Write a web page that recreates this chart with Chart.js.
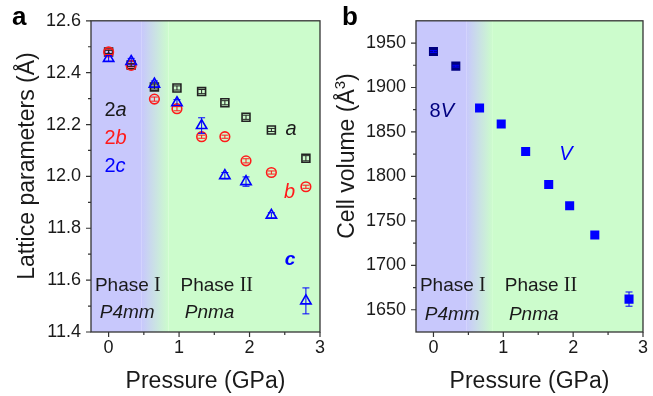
<!DOCTYPE html>
<html>
<head>
<meta charset="utf-8">
<script src="https://cdn.jsdelivr.net/npm/chart.js@4.4.1/dist/chart.umd.min.js"></script>
<style>
  body { margin: 0; background: #fff; }
  #wrap { position: relative; width: 653px; height: 396px; }
  canvas { position: absolute; top: 0; }
</style>
</head>
<body>
<div id="wrap">
  <canvas id="chartA" width="330" height="396" style="left:0"></canvas>
  <canvas id="chartB" width="323" height="396" style="left:330px"></canvas>
</div>
<script>
// pressure points (GPa)
const pressure = [0, 0.32, 0.65, 0.97, 1.32, 1.65, 1.95, 2.31, 2.80];

// panel a: lattice parameters (Å)
const latticeA = [12.48, 12.43, 12.345, 12.341, 12.327, 12.284, 12.228, 12.179, 12.07];
const errorA = [0.006, 0.006, 0.008, 0.008, 0.008, 0.008, 0.008, 0.006, 0.01];
const latticeB = [12.48, 12.428, 12.298, 12.261, 12.153, 12.153, 12.06, 12.015, 11.96];
const errorB = [0.01, 0.006, 0.008, 0.008, 0.006, 0.006, 0.008, 0.006, 0.006];
const latticeC = [12.455, 12.443, 12.356, 12.284, 12.196, 12.003, 11.98, 11.85, 11.52];
const errorC = [0.012, 0.012, 0.012, 0.012, 0.03, 0.012, 0.018, 0.01, 0.05];

// panel b: cell volume (Å^3)
const pressureV = [0, 0.32, 0.66, 0.97, 1.32, 1.65, 1.95, 2.31, 2.80];
const volume = [1940.5, 1924, 1877, 1859, 1828, 1791, 1767, 1734, 1662];
const errorV = [1, 1, 1, 1, 3, 1, 1, 1, 8];

// ticks
const xTicks = [0, 1, 2, 3];
const xMinor = [0.5, 1.5, 2.5];
const yTicksA = [11.4, 11.6, 11.8, 12.0, 12.2, 12.4, 12.6];
const yMinorA = [11.5, 11.7, 11.9, 12.1, 12.3, 12.5];
const yTicksB = [1650, 1700, 1750, 1800, 1850, 1900, 1950];
const yMinorB = [1675, 1725, 1775, 1825, 1875, 1925];

const SANS = '"Liberation Sans", Arial, sans-serif';
const SERIF = '"Liberation Serif", "Times New Roman", serif';
const BLUE = '#0000ff';
const RED = '#ff1a1a';
const NAVY = '#000080';
const INK = '#1a1a1a';

// draw a row of text pieces with different fonts
function drawRuns(ctx, parts, x, y, align) {
  let w = 0;
  parts.forEach(p => { ctx.font = p.font; w += ctx.measureText(p.t).width; });
  let cx = align === 'center' ? x - w / 2 : x;
  parts.forEach(p => {
    ctx.font = p.font;
    ctx.fillStyle = p.color || INK;
    ctx.fillText(p.t, cx, y + (p.dy || 0));
    cx += ctx.measureText(p.t).width;
  });
}

const phaseBg = {
  id: 'phaseBg',
  beforeDatasetsDraw(chart, args, opts) {
    const { ctx, chartArea: a, scales: { x } } = chart;
    const x0 = x.getPixelForValue(0.47), x1 = x.getPixelForValue(0.85);
    const g = ctx.createLinearGradient(x0, 0, x1, 0);
    g.addColorStop(0, '#c8c8fc');
    g.addColorStop(1, '#ccfccc');
    ctx.save();
    ctx.fillStyle = '#c8c8fc';
    ctx.fillRect(a.left, a.top, x0 - a.left, a.bottom - a.top);
    ctx.fillStyle = g;
    ctx.fillRect(x0, a.top, x1 - x0, a.bottom - a.top);
    ctx.fillStyle = '#ccfccc';
    ctx.fillRect(x1, a.top, a.right - x1, a.bottom - a.top);
    ctx.restore();
  }
};

const errorBars = {
  id: 'errorBars',
  afterDatasetsDraw(chart) {
    const { ctx, scales: { y } } = chart;
    ctx.save();
    chart.data.datasets.forEach((ds, di) => {
      if (!ds.errors) return;
      const meta = chart.getDatasetMeta(di);
      ctx.strokeStyle = ds.errColor || ds.borderColor;
      ctx.lineWidth = 1;
      meta.data.forEach((pt, i) => {
        const v = ds.data[i].y, e = ds.errors[i];
        const yt = y.getPixelForValue(v + e), yb = y.getPixelForValue(v - e);
        ctx.beginPath();
        ctx.moveTo(pt.x, yt); ctx.lineTo(pt.x, yb);
        ctx.moveTo(pt.x - 3.5, yt); ctx.lineTo(pt.x + 3.5, yt);
        ctx.moveTo(pt.x - 3.5, yb); ctx.lineTo(pt.x + 3.5, yb);
        ctx.stroke();
      });
    });
    ctx.restore();
  }
};

const frame = {
  id: 'frame',
  afterDraw(chart, args, o) {
    const { ctx, chartArea: a, scales: { x, y } } = chart;
    ctx.save();
    ctx.strokeStyle = '#333';
    ctx.lineWidth = 1.3;
    ctx.strokeRect(a.left, a.top, a.right - a.left, a.bottom - a.top);
    ctx.lineWidth = 1.2;
    ctx.beginPath();
    o.xMajor.forEach(v => { const p = x.getPixelForValue(v); ctx.moveTo(p, a.bottom); ctx.lineTo(p, a.bottom + 5); });
    o.xMinor.forEach(v => { const p = x.getPixelForValue(v); ctx.moveTo(p, a.bottom); ctx.lineTo(p, a.bottom + 3); });
    o.yMajor.forEach(v => { const p = y.getPixelForValue(v); ctx.moveTo(a.left, p); ctx.lineTo(a.left - 5, p); });
    o.yMinor.forEach(v => { const p = y.getPixelForValue(v); ctx.moveTo(a.left, p); ctx.lineTo(a.left - 3, p); });
    ctx.stroke();

    // text annotations in data coordinates
    ctx.textBaseline = 'middle';
    o.notes.forEach(n => drawRuns(ctx, n.parts, x.getPixelForValue(n.x), y.getPixelForValue(n.y), 'left'));

    // axis titles and panel letter
    ctx.textBaseline = 'alphabetic';
    drawRuns(ctx, [{ t: 'Pressure (GPa)', font: '23px ' + SANS }], (a.left + a.right) / 2, 388, 'center');
    ctx.save();
    ctx.translate(o.yTitleX, o.yTitleY);
    ctx.rotate(-Math.PI / 2);
    drawRuns(ctx, o.yTitle, 0, 0, 'center');
    ctx.restore();
    drawRuns(ctx, [{ t: o.letter, font: 'bold 26px ' + SANS, color: '#000' }], o.letterX, 25, 'left');
    ctx.restore();
  }
};

function axes(xmin, xmax, ymin, ymax, yTicks, yWidth, fmt) {
  const tickFont = { family: SANS, size: 18 };
  return {
    x: {
      type: 'linear', min: xmin, max: xmax,
      afterBuildTicks: s => { s.ticks = xTicks.map(v => ({ value: v })); },
      afterFit: s => { s.height = 64; },
      grid: { display: false, drawTicks: false },
      border: { display: false },
      ticks: { font: tickFont, color: INK, padding: 5, maxRotation: 0, callback: v => String(v) }
    },
    y: {
      type: 'linear', min: ymin, max: ymax,
      afterBuildTicks: s => { s.ticks = yTicks.map(v => ({ value: v })); },
      afterFit: s => { s.width = yWidth; },
      grid: { display: false, drawTicks: false },
      border: { display: false },
      ticks: { font: tickFont, color: INK, padding: 10, callback: fmt }
    }
  };
}

const pts = (xs, ys) => xs.map((v, i) => ({ x: v, y: ys[i] }));
const f20 = '20px ' + SANS, i20 = 'italic 20px ' + SANS, ph = '19px ' + SANS, rom = '20px ' + SERIF;

new Chart(document.getElementById('chartA'), {
  type: 'scatter',
  data: {
    datasets: [
      { label: 'c', data: pts(pressure, latticeC), errors: errorC, pointStyle: 'triangle', radius: 6,
        borderColor: BLUE, backgroundColor: 'rgba(255,255,255,0)', borderWidth: 1.6 },
      { label: 'b', data: pts(pressure, latticeB), errors: errorB, pointStyle: 'circle', radius: 4.8,
        borderColor: RED, backgroundColor: 'rgba(255,255,255,0)', borderWidth: 1.6 },
      { label: 'a', data: pts(pressure, latticeA), errors: errorA, pointStyle: 'rect', radius: 5.6,
        borderColor: '#222', backgroundColor: 'rgba(255,255,255,0)', borderWidth: 1.6 }
    ]
  },
  options: {
    responsive: false, animation: false, events: [],
    layout: { padding: { left: 0, right: 5, top: 18, bottom: 0 } },
    scales: axes(-0.25, 3, 11.4, 12.6, yTicksA, 91, v => v.toFixed(1)),
    plugins: {
      legend: { display: false }, tooltip: { enabled: false },
      frame: {
        xMajor: xTicks, xMinor: xMinor, yMajor: yTicksA, yMinor: yMinorA,
        letter: 'a', letterX: 12, yTitleX: 34, yTitleY: 166,
        yTitle: [{ t: 'Lattice parameters (Å)', font: '23px ' + SANS }],
        notes: [
          { x: -0.06, y: 12.253, parts: [{ t: '2', font: f20 }, { t: 'a', font: i20 }] },
          { x: -0.06, y: 12.146, parts: [{ t: '2', font: f20, color: RED }, { t: 'b', font: i20, color: RED }] },
          { x: -0.06, y: 12.039, parts: [{ t: '2', font: f20, color: BLUE }, { t: 'c', font: i20, color: BLUE }] },
          { x: 2.51, y: 12.18, parts: [{ t: 'a', font: i20 }] },
          { x: 2.49, y: 11.94, parts: [{ t: 'b', font: i20, color: RED }] },
          { x: 2.50, y: 11.68, parts: [{ t: 'c', font: 'italic bold 19px ' + SANS, color: BLUE }] },
          { x: -0.194, y: 11.58, parts: [{ t: 'Phase ', font: ph }, { t: 'I', font: rom }] },
          { x: -0.125, y: 11.473, parts: [{ t: 'P4mm', font: 'italic 19px ' + SANS }] },
          { x: 1.02, y: 11.58, parts: [{ t: 'Phase ', font: ph }, { t: 'II', font: rom }] },
          { x: 1.08, y: 11.473, parts: [{ t: 'Pnma', font: 'italic 19px ' + SANS }] }
        ]
      }
    }
  },
  plugins: [phaseBg, errorBars, frame]
});

const volColors = volume.map((v, i) => (i < 2 ? NAVY : BLUE));

new Chart(document.getElementById('chartB'), {
  type: 'scatter',
  data: {
    datasets: [
      { label: 'V', data: pts(pressureV, volume), errors: errorV, errColor: BLUE, pointStyle: 'rect', radius: 6.4,
        borderColor: volColors, backgroundColor: volColors, borderWidth: 0 }
    ]
  },
  options: {
    responsive: false, animation: false, events: [],
    layout: { padding: { left: 0, right: 3, top: 18, bottom: 0 } },
    scales: axes(-0.25, 3, 1625, 1975, yTicksB, 86, v => String(v)),
    plugins: {
      legend: { display: false }, tooltip: { enabled: false },
      frame: {
        xMajor: xTicks, xMinor: xMinor, yMajor: yTicksB, yMinor: yMinorB,
        letter: 'b', letterX: 12, yTitleX: 24, yTitleY: 156,
        yTitle: [
          { t: 'Cell volume (Å', font: '23px ' + SANS },
          { t: '3', font: '15px ' + SANS, dy: -9 },
          { t: ')', font: '23px ' + SANS }
        ],
        notes: [
          { x: -0.055, y: 1873.4, parts: [{ t: '8', font: f20, color: NAVY }, { t: 'V', font: i20, color: NAVY }] },
          { x: 1.80, y: 1825, parts: [{ t: 'V', font: i20, color: BLUE }] },
          { x: -0.194, y: 1676.5, parts: [{ t: 'Phase ', font: ph }, { t: 'I', font: rom }] },
          { x: -0.125, y: 1644.7, parts: [{ t: 'P4mm', font: 'italic 19px ' + SANS }] },
          { x: 1.02, y: 1676.5, parts: [{ t: 'Phase ', font: ph }, { t: 'II', font: rom }] },
          { x: 1.08, y: 1644.7, parts: [{ t: 'Pnma', font: 'italic 19px ' + SANS }] }
        ]
      }
    }
  },
  plugins: [phaseBg, errorBars, frame]
});
</script>
</body>
</html>
